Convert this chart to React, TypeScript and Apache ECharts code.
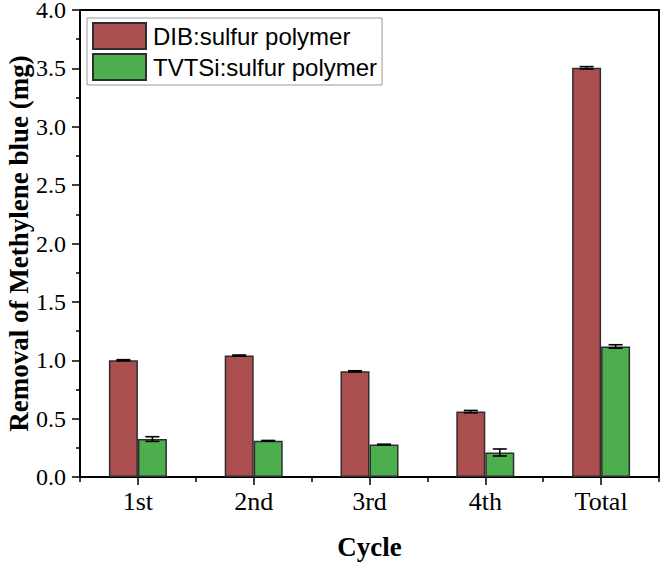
import React, { useEffect, useRef } from "react";
import * as echarts from "echarts";

const categories = ["1st", "2nd", "3rd", "4th", "Total"];
const dibValues = [1.0, 1.04, 0.905, 0.56, 3.505];
const dibErrors = [0.005, 0.005, 0.005, 0.01, 0.01];
const tvtsiValues = [0.325, 0.31, 0.278, 0.21, 1.118];
const tvtsiErrors = [0.02, 0.003, 0.003, 0.03, 0.015];
const seriesNames = ["DIB:sulfur polymer", "TVTSi:sulfur polymer"];
const yTicks = { min: 0, max: 4, interval: 0.5 };

const SERIF = "'Times New Roman', 'Liberation Serif', serif";
const SANS = "Arial, 'Liberation Sans', sans-serif";
const BAR_W = 29;

function errorSeries(values: number[], errors: number[], side: number) {
  const data = values.map((v, i) => [i, v, errors[i]]);
  return {
    type: "custom",
    xAxisIndex: 0,
    yAxisIndex: 0,
    z: 5,
    silent: true,
    data,
    renderItem: (params: any, api: any) => {
      const idx = api.value(0);
      const v = api.value(1);
      const e = api.value(2);
      const hi = api.coord([idx, v + e]);
      const lo = api.coord([idx, v - e]);
      const x = hi[0] + side * (BAR_W / 2);
      const cap = 7;
      const style = { stroke: "#000", lineWidth: 1.6 };
      return {
        type: "group",
        children: [
          { type: "line", shape: { x1: x, y1: hi[1], x2: x, y2: lo[1] }, style },
          { type: "line", shape: { x1: x - cap, y1: hi[1], x2: x + cap, y2: hi[1] }, style },
          { type: "line", shape: { x1: x - cap, y1: lo[1], x2: x + cap, y2: lo[1] }, style },
        ],
      };
    },
  };
}

export default function App() {
  const ref = useRef<HTMLDivElement>(null);
  useEffect(() => {
    if (!ref.current) return;
    const chart = echarts.init(ref.current, undefined, { renderer: "svg" });
    chart.setOption({
      animation: false,
      backgroundColor: "#fff",
      grid: {
        left: 80,
        right: 2,
        top: 10,
        bottom: 87,
        outerBoundsMode: "none",
        containLabel: false,
        show: true,
        borderColor: "#000",
        borderWidth: 2,
        backgroundColor: "transparent",
      },
      legend: {
        left: 87,
        top: 18,
        orient: "vertical",
        itemWidth: 53,
        itemHeight: 26,
        itemGap: 3,
        padding: [4, 5, 4, 5],
        borderColor: "#999",
        borderWidth: 1,
        backgroundColor: "#fff",
        icon: "rect",
        textStyle: { fontFamily: SANS, fontSize: 24, color: "#000", padding: [0, 0, 0, 2] },
        data: seriesNames,
      },
      xAxis: [
        {
          type: "category",
          position: "bottom",
          data: categories,
          name: "Cycle",
          nameLocation: "middle",
          nameGap: 56,
          nameMoveOverlap: false,
          nameTextStyle: { fontFamily: SERIF, fontSize: 27, fontWeight: "bold", color: "#000" },
          axisLine: { show: true, lineStyle: { color: "#000", width: 2 } },
          axisTick: { show: true, alignWithLabel: true, length: 8, lineStyle: { color: "#000", width: 1.5 } },
          axisLabel: { fontFamily: SERIF, fontSize: 26, color: "#000", margin: 11 },
          splitLine: { show: false },
        },
        {
          type: "category",
          position: "bottom",
          data: categories,
          axisLine: { show: false },
          axisTick: { show: true, length: 5, lineStyle: { color: "#000", width: 1.5 } },
          axisLabel: { show: false },
          splitLine: { show: false },
        },
      ],
      yAxis: {
        type: "value",
        min: yTicks.min,
        max: yTicks.max,
        interval: yTicks.interval,
        name: "Removal of Methylene blue (mg)",
        nameLocation: "middle",
        nameGap: 48,
        nameMoveOverlap: false,
        nameTextStyle: { fontFamily: SERIF, fontSize: 27, fontWeight: "bold", color: "#000" },
        axisLine: { show: true, lineStyle: { color: "#000", width: 2 } },
        axisTick: { show: true, length: 8, lineStyle: { color: "#000", width: 1.5 } },
        minorTick: { show: true, splitNumber: 2, length: 4, lineStyle: { color: "#000", width: 1.5 } },
        axisLabel: {
          fontFamily: SERIF,
          fontSize: 24,
          lineHeight: 20,
          padding: [3, 0, 0, 0],
          color: "#000",
          margin: 14,
          formatter: (v: number) => v.toFixed(1),
        },
        splitLine: { show: false },
      },
      series: [
        {
          name: seriesNames[0],
          type: "bar",
          data: dibValues,
          barWidth: BAR_W,
          barGap: "0%",
          itemStyle: { color: "#AA4E50", borderColor: "#2e2e2e", borderWidth: 1.5 },
        },
        {
          name: seriesNames[1],
          type: "bar",
          data: tvtsiValues,
          barWidth: BAR_W,
          barGap: "0%",
          itemStyle: { color: "#4DAE4D", borderColor: "#2e2e2e", borderWidth: 1.5 },
        },
        errorSeries(dibValues, dibErrors, -1),
        errorSeries(tvtsiValues, tvtsiErrors, 1),
      ],
    });
    return () => chart.dispose();
  }, []);
  return (
    <div
      ref={ref}
      style={{ position: "fixed", left: 0, top: 0, width: 661, height: 564 }}
    />
  );
}
